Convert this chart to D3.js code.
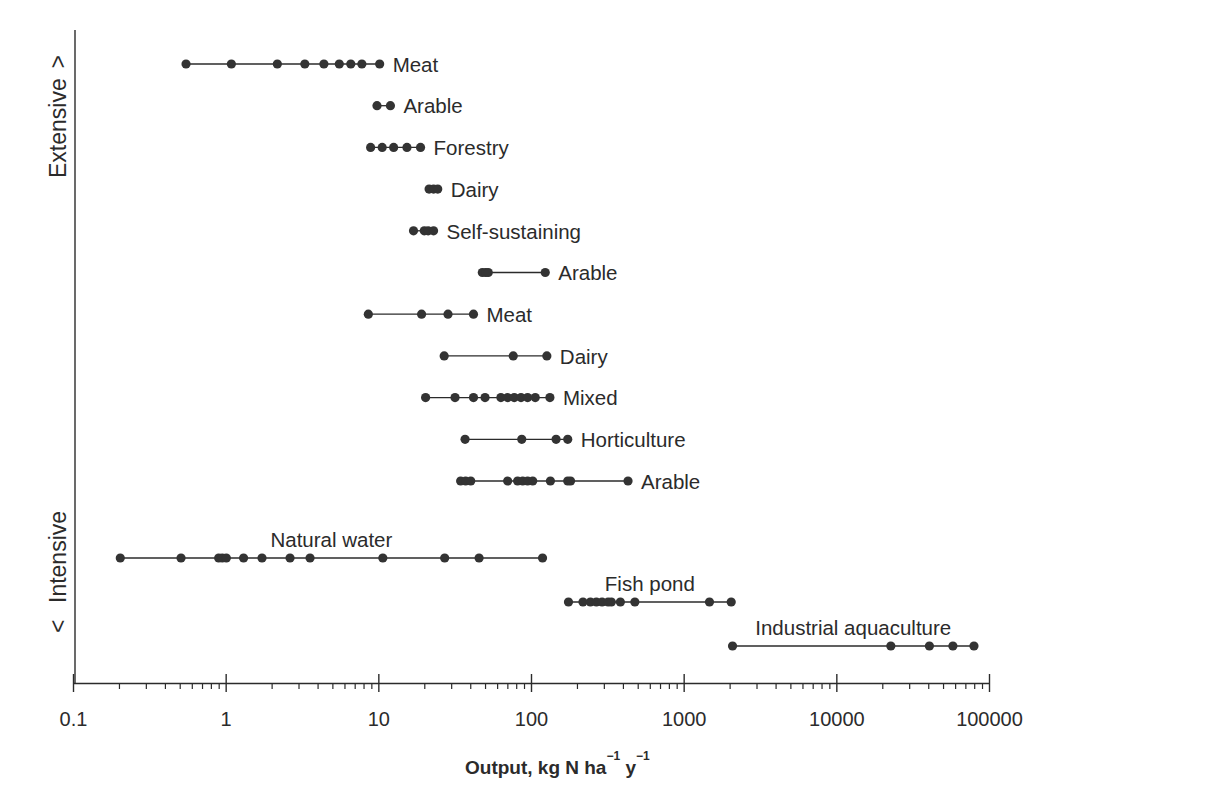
<!DOCTYPE html>
<html>
<head>
<meta charset="utf-8">
<script src="https://cdn.jsdelivr.net/npm/d3@7"></script>
<style>
	body { margin: 0; background: #fff; }
	svg { display: block; }
</style>
</head>
<body>
<div id="chart"></div>
<script>
// farming systems, top to bottom (extensive -> intensive)
var farmCategories = ["Meat", "Arable", "Forestry", "Dairy", "Self-sustaining", "Arable",
	"Meat", "Dairy", "Mixed", "Horticulture", "Arable"];

// N output per system, kg N ha-1 y-1
var farmValues = [
	[0.55, 1.09, 2.18, 3.3, 4.4, 5.55, 6.6, 7.8, 10.2],
	[9.8, 12.0],
	[8.9, 10.6, 12.6, 15.4, 18.9],
	[21.5, 23, 24.5],
	[17, 20, 21.2, 23],
	[48, 50.5, 52.5, 124],
	[8.6, 19.2, 28.6, 42],
	[27, 76.5, 127],
	[20.4, 31.8, 42, 50, 63.5, 70.3, 77.7, 86, 95, 106.6, 133],
	[37, 87, 146, 174],
	[34.6, 37.3, 40.3, 70.3, 81.7, 88.2, 95, 102.6, 134, 174, 181.6, 432]
];

// aquatic systems, labels sit above the line
var waterCategories = ["Natural water", "Fish pond", "Industrial aquaculture"];
var waterValues = [
	[0.204, 0.51, 0.9, 0.95, 1.01, 1.31, 1.73, 2.64, 3.57, 10.7, 27.2, 45.7, 119],
	[176, 219, 245, 268, 292, 320, 336, 385, 479, 1476, 2048],
	[2090, 22750, 40700, 58000, 79700]
];

var decades = [0.1, 1, 10, 100, 1000, 10000, 100000];
var tickLabels = ["0.1", "1", "10", "100", "1000", "10000", "100000"];

var width = 1213, height = 790;
var font = "'Liberation Sans', Arial, Helvetica, sans-serif";
var ink = "#2b2b2b";

var svg = d3.select("#chart").append("svg")
	.attr("width", width)
	.attr("height", height)
	.style("background", "#fff");

var x = d3.scaleLog().domain([0.1, 100000]).range([73, 989]);
var axisY = 683;

var rowY = d3.scalePoint()
	.domain(d3.range(farmCategories.length))
	.range([64, 481]);

var waterY = d3.scalePoint()
	.domain(d3.range(waterCategories.length))
	.range([558, 646]);

// minor ticks (2..9 in each decade)
var minor = [];
decades.slice(0, -1).forEach(function(d){
	for (var k = 2; k <= 9; k++) minor.push(d * k);
});

var gMinor = svg.append("g")
	.attr("transform", "translate(0," + axisY + ")")
	.call(d3.axisBottom(x).tickValues(minor).tickSize(6).tickFormat(""));
gMinor.select(".domain").remove();
gMinor.selectAll(".tick line").attr("stroke", ink).attr("stroke-width", 1.2);

var gAxis = svg.append("g")
	.attr("transform", "translate(0," + axisY + ")")
	.call(d3.axisBottom(x)
		.tickValues(decades)
		.tickFormat(function(d, i){ return tickLabels[i]; })
		.tickSize(8)
		.tickSizeOuter(0)
		.tickPadding(21));
gAxis.select(".domain").attr("stroke", ink).attr("stroke-width", 1.4);
gAxis.selectAll(".tick line")
	.attr("y1", -9)
	.attr("y2", 9)
	.attr("stroke", ink)
	.attr("stroke-width", 1.4);
gAxis.selectAll(".tick text")
	.attr("font-family", font)
	.attr("font-size", 20)
	.attr("fill", ink);

// vertical axis
svg.append("line")
	.attr("x1", x(0.1) + 2).attr("x2", x(0.1) + 2)
	.attr("y1", 30).attr("y2", axisY)
	.attr("stroke", ink)
	.attr("stroke-width", 1.4);

// axis title
var title = svg.append("text")
	.attr("x", 465)
	.attr("y", 774)
	.attr("font-family", font)
	.attr("font-size", 19)
	.attr("font-weight", "bold")
	.attr("fill", ink);
title.append("tspan").text("Output, kg N ha");
title.append("tspan").attr("dy", -14).attr("font-size", 12).text("\u22121");
title.append("tspan").attr("dy", 14).text(" y");
title.append("tspan").attr("dy", -14).attr("font-size", 12).text("\u22121");

// side labels (rotated, arrows set apart from the words)
function sideText(y, anchor, str){
	svg.append("text")
		.attr("transform", "translate(58," + y + ") rotate(-90)")
		.attr("text-anchor", anchor)
		.attr("dy", "0.35em")
		.attr("font-family", font)
		.attr("font-size", 23)
		.attr("fill", ink)
		.text(str);
}
sideText(55, "end", ">");
sideText(178, "start", "Extensive");
sideText(633, "start", "<");
sideText(603, "start", "Intensive");

function drawRow(g, vals, y){
	g.append("line")
		.attr("x1", x(d3.min(vals)))
		.attr("x2", x(d3.max(vals)))
		.attr("y1", y).attr("y2", y)
		.attr("stroke", ink)
		.attr("stroke-width", 1.3);
	g.selectAll("circle")
		.data(vals)
		.enter()
		.append("circle")
		.attr("cx", function(d){ return x(d); })
		.attr("cy", y)
		.attr("r", 4.6)
		.attr("fill", "#333");
}

// farming rows, label to the right
farmCategories.forEach(function(cat, i){
	var g = svg.append("g");
	var y = rowY(i);
	drawRow(g, farmValues[i], y);
	g.append("text")
		.attr("x", x(d3.max(farmValues[i])) + 13)
		.attr("y", y)
		.attr("dy", "0.38em")
		.attr("font-family", font)
		.attr("font-size", 20.5)
		.attr("fill", ink)
		.text(cat);
});

// aquatic rows, label centred above
waterCategories.forEach(function(cat, i){
	var g = svg.append("g");
	var y = waterY(i);
	var vals = waterValues[i];
	drawRow(g, vals, y);
	g.append("text")
		.attr("x", (x(d3.min(vals)) + x(d3.max(vals))) / 2)
		.attr("y", y - 11)
		.attr("text-anchor", "middle")
		.attr("font-family", font)
		.attr("font-size", 20.5)
		.attr("fill", ink)
		.text(cat);
});
</script>
</body>
</html>
